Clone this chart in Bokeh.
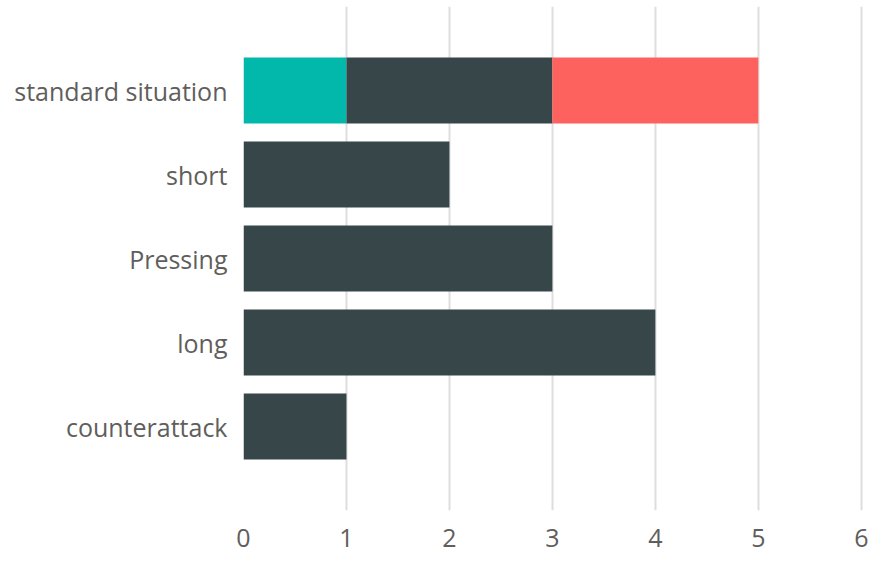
from bokeh.plotting import figure
from bokeh.models import Range1d, FactorRange, ColumnDataSource
from bokeh.embed import file_html
from bokeh.resources import INLINE

categories = ["standard situation", "short", "Pressing", "long", "counterattack"]
teal_vals = [1, 0, 0, 0, 0]
dark_vals = [2, 2, 3, 4, 1]
red_vals = [2, 0, 0, 0, 0]
x_ticks = [0, 1, 2, 3, 4, 5, 6]

factors = list(reversed(categories))
src = ColumnDataSource(dict(cat=categories, teal=teal_vals, dark=dark_vals, red=red_vals))

p = figure(width=868, height=553, output_backend="svg", toolbar_location=None,
           y_range=FactorRange(*factors, range_padding=0.2),
           x_range=Range1d(0, 6.07))
p.min_border_top = 6
p.min_border_right = 0
p.min_border_left = 243
p.min_border_bottom = 43
p.outline_line_color = None

p.hbar_stack(["teal", "dark", "red"], y="cat", height=0.786, source=src,
             color=["#01B8AA", "#374649", "#FD625E"], line_color=None)

font = "Open Sans"
tc = "#605E5C"
fs = "25px"
p.xaxis.ticker = x_ticks
p.xaxis.axis_line_color = None
p.xaxis.major_tick_line_color = None
p.xaxis.major_tick_out = 0
p.xaxis.minor_tick_line_color = None
p.xaxis.minor_tick_out = 0
p.xaxis.major_label_text_font = font
p.xaxis.major_label_text_font_size = fs
p.xaxis.major_label_text_color = tc
p.xaxis.major_label_standoff = 18

p.yaxis.axis_line_color = None
p.yaxis.major_tick_line_color = None
p.yaxis.major_tick_out = 0
p.yaxis.major_label_text_font = font
p.yaxis.major_label_text_font_size = fs
p.yaxis.major_label_text_color = tc
p.yaxis.major_label_standoff = 16

p.ygrid.grid_line_color = None
p.xgrid.grid_line_color = "#DEDEDE"
p.xgrid.grid_line_width = 2

open("out.html", "w").write(file_html(p, INLINE))
